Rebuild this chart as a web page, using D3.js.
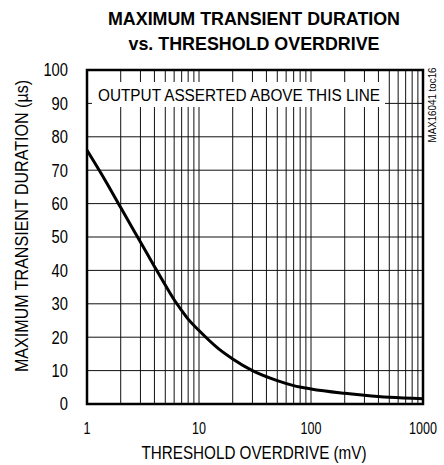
<!DOCTYPE html>
<html>
<head>
<meta charset="utf-8">
<script src="https://cdn.jsdelivr.net/npm/d3@7"></script>
<style>
  body { margin: 0; background: #fff; }
  text { font-family: "Liberation Sans Narrow", "Arial Narrow", "Liberation Sans", Arial, sans-serif; fill: #000; }
</style>
</head>
<body>
<div id="chart"></div>
<script>
// values
var overdrive = [1, 1.5, 2, 3, 4, 5, 6, 7, 8, 10, 15, 20, 30, 50, 70, 100, 200, 300, 500, 1000];
var duration = [76, 66.2, 58.8, 48.5, 41.2, 35.6, 31.2, 28, 25.4, 22, 16.5, 13.5, 10, 7, 5.5, 4.5, 3.2, 2.6, 2.0, 1.6];

var xTicks = [1, 10, 100, 1000];
var yTicks = [0, 10, 20, 30, 40, 50, 60, 70, 80, 90, 100];

var width = 444, height = 465;
var margin = {top: 70, right: 21, bottom: 61, left: 87};

var svg = d3.select("#chart")
  .append("svg")
    .attr("width", width)
    .attr("height", height);

var x = d3.scaleLog()
    .domain([1, 1000])
    .range([margin.left, width - margin.right]);

var y = d3.scaleLinear()
    .domain([0, 100])
    .range([height - margin.bottom, margin.top]);

// minor + major grid (1..9 in every decade)
var vGrid = [];
[1, 10, 100].forEach(function(dec){
  for(var k = 1; k < 10; k++){ vGrid.push(dec * k); }
});

svg.append("g")
  .selectAll("line")
  .data(vGrid)
  .enter().append("line")
    .attr("x1", function(d){ return x(d); })
    .attr("x2", function(d){ return x(d); })
    .attr("y1", y(0))
    .attr("y2", y(100))
    .attr("stroke", "#111")
    .attr("stroke-width", 1);

svg.append("g")
  .selectAll("line")
  .data(yTicks)
  .enter().append("line")
    .attr("x1", x(1))
    .attr("x2", x(1000))
    .attr("y1", function(d){ return y(d); })
    .attr("y2", function(d){ return y(d); })
    .attr("stroke", "#111")
    .attr("stroke-width", 1);

// annotation box covering the grid
svg.append("rect")
  .attr("x", 92)
  .attr("y", 82)
  .attr("width", 293)
  .attr("height", 25)
  .attr("fill", "#fff");

svg.append("text")
  .attr("x", 98)
  .attr("y", 101)
  .attr("font-size", 16)
  .attr("textLength", 282)
  .attr("lengthAdjust", "spacingAndGlyphs")
  .text("OUTPUT ASSERTED ABOVE THIS LINE");

// curve
var line = d3.line()
  .curve(d3.curveMonotoneX)
  .x(function(d, i){ return x(overdrive[i]); })
  .y(function(d){ return y(d); });

svg.append("path")
  .datum(duration)
  .attr("fill", "none")
  .attr("stroke", "#000")
  .attr("stroke-width", 3)
  .attr("stroke-linejoin", "round")
  .attr("d", line);

// frame
svg.append("rect")
  .attr("x", x(1))
  .attr("y", y(100))
  .attr("width", x(1000) - x(1))
  .attr("height", y(0) - y(100))
  .attr("fill", "none")
  .attr("stroke", "#000")
  .attr("stroke-width", 2.5);

// tick labels (narrow digits, squeezed with textLength)
svg.append("g")
  .selectAll("text")
  .data(yTicks)
  .enter().append("text")
    .attr("x", 68)
    .attr("y", function(d){ return y(d); })
    .attr("dy", "0.36em")
    .attr("text-anchor", "end")
    .attr("font-size", 18)
    .attr("textLength", function(d){ return String(d).length * 8.2; })
    .attr("lengthAdjust", "spacingAndGlyphs")
    .text(function(d){ return d; });

// x labels: horizontally condensed with a scale transform
svg.append("g")
  .selectAll("text")
  .data(xTicks)
  .enter().append("text")
    .attr("transform", function(d){ return "translate(" + x(d) + ",434) scale(0.74,1)"; })
    .attr("text-anchor", "middle")
    .attr("font-size", 17)
    .text(function(d){ return d; });

// titles
svg.append("text")
  .attr("x", 254)
  .attr("y", 25)
  .attr("text-anchor", "middle")
  .attr("font-size", 19)
  .attr("font-weight", "bold")
  .attr("textLength", 292)
  .attr("lengthAdjust", "spacingAndGlyphs")
  .text("MAXIMUM TRANSIENT DURATION");

svg.append("text")
  .attr("x", 254)
  .attr("y", 50)
  .attr("text-anchor", "middle")
  .attr("font-size", 19)
  .attr("font-weight", "bold")
  .attr("textLength", 251)
  .attr("lengthAdjust", "spacingAndGlyphs")
  .text("vs. THRESHOLD OVERDRIVE");

svg.append("text")
  .attr("x", 254)
  .attr("y", 459)
  .attr("text-anchor", "middle")
  .attr("font-size", 18)
  .attr("textLength", 225)
  .attr("lengthAdjust", "spacingAndGlyphs")
  .text("THRESHOLD OVERDRIVE (mV)");

svg.append("text")
  .attr("transform", "translate(28,226) rotate(-90)")
  .attr("text-anchor", "middle")
  .attr("font-size", 18)
  .attr("textLength", 292)
  .attr("lengthAdjust", "spacingAndGlyphs")
  .text("MAXIMUM TRANSIENT DURATION (\u00b5s)");

svg.append("text")
  .attr("transform", "translate(436,105) rotate(-90)")
  .attr("text-anchor", "middle")
  .attr("font-size", 10)
  .attr("textLength", 75)
  .attr("lengthAdjust", "spacingAndGlyphs")
  .text("MAX16041 toc16");
</script>
</body>
</html>
